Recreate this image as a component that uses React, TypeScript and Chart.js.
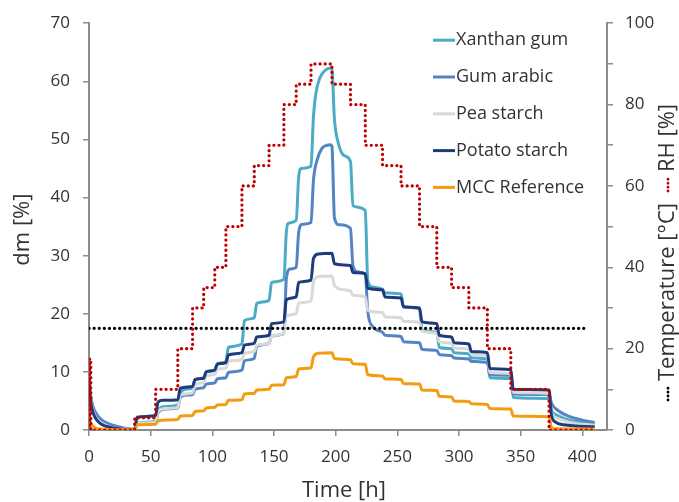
import React, { useEffect, useRef } from "react";
import { Chart, registerables } from "chart.js";

Chart.register(...registerables);

type Pt = [number, number];

// ---- data (time [h], dm [%]) ----
const xanthanGum: Pt[] = [
  [0, 10.3], [1, 6.5], [3, 3.8], [6, 2.2], [10, 1.3], [18, 0.6], [28, 0.2], [36, 0.1],
  [37, 0.1], [39, 1.2], [54, 1.5],
  [56, 3.2], [60, 4.0], [72, 4.3],
  [74, 6.2], [78, 7.0], [84, 7.2],
  [86, 8.6], [93, 9.0],
  [95, 10.0], [102, 10.3],
  [104, 11.4], [111, 11.8],
  [113, 14.2], [124, 14.8],
  [126, 18.8], [134, 19.3],
  [136, 21.8], [146, 22.3],
  [148, 25.4], [158, 25.9],
  [160, 34.0], [162, 35.6], [168, 36.1],
  [170, 43.5], [172, 45.0], [180, 45.4],
  [182, 54.0], [184, 58.0], [187, 60.5], [191, 61.8], [196, 62.3],
  [197, 62.0], [199, 53.5], [202, 49.5], [207, 47.2], [212, 46.2],
  [214, 38.6], [224, 37.8],
  [226, 25.8], [230, 24.6], [238, 24.2],
  [240, 23.6], [253, 23.4],
  [255, 21.2], [268, 20.8],
  [270, 17.2], [282, 16.8],
  [284, 14.2], [294, 14.0],
  [296, 13.3], [308, 13.1],
  [310, 12.4], [323, 12.2],
  [325, 9.0], [342, 8.8],
  [344, 5.6], [373, 5.4],
  [375, 3.4], [380, 2.5], [390, 1.7], [400, 1.3], [410, 1.0],
];

const gumArabic: Pt[] = [
  [0, 9.5], [1, 6.5], [3, 4.2], [6, 2.8], [10, 1.8], [18, 0.9], [28, 0.35], [36, 0.15],
  [37, 0.15], [39, 1.0], [54, 1.2],
  [56, 3.0], [62, 3.6], [72, 3.8],
  [74, 5.6], [78, 6.0], [84, 6.1],
  [86, 7.0], [93, 7.3],
  [95, 7.9], [102, 8.1],
  [104, 8.8], [111, 9.0],
  [113, 9.9], [124, 10.3],
  [126, 11.9], [134, 12.3],
  [136, 14.4], [146, 14.9],
  [148, 16.2], [158, 16.6],
  [160, 26.0], [163, 27.7], [168, 28.0],
  [170, 34.0], [173, 35.4], [180, 35.7],
  [182, 43.0], [185, 46.5], [189, 48.5], [193, 49.0], [196, 49.1],
  [197, 48.8], [199, 36.5], [203, 35.3], [212, 34.7],
  [214, 28.3], [218, 27.2], [224, 26.8],
  [226, 20.5], [230, 17.8], [238, 16.8],
  [240, 16.3], [253, 16.1],
  [255, 15.2], [268, 15.0],
  [270, 13.9], [282, 13.7],
  [284, 13.0], [294, 12.8],
  [296, 12.4], [308, 12.2],
  [310, 11.8], [323, 11.6],
  [325, 9.5], [342, 9.4],
  [344, 6.2], [373, 6.1],
  [375, 4.6], [380, 3.4], [390, 2.3], [400, 1.7], [410, 1.3],
];

const peaStarch: Pt[] = [
  [0, 9.0], [1, 6.0], [3, 3.5], [6, 2.0], [10, 1.2], [18, 0.5], [28, 0.2], [36, 0.05],
  [37, 0.05], [39, 1.1], [54, 1.4],
  [56, 3.2], [62, 3.7], [72, 3.9],
  [74, 6.0], [84, 6.4],
  [86, 7.8], [93, 8.2],
  [95, 9.3], [102, 9.6],
  [104, 10.4], [111, 10.7],
  [113, 11.8], [124, 12.1],
  [126, 13.2], [134, 13.5],
  [136, 14.6], [146, 14.9],
  [148, 16.2], [158, 16.6],
  [160, 19.6], [168, 20.0],
  [170, 21.8], [180, 22.2],
  [182, 25.5], [186, 26.4], [197, 26.5],
  [199, 24.9], [205, 24.2], [212, 23.9],
  [214, 23.2], [224, 22.9],
  [226, 20.6], [238, 20.2],
  [240, 19.5], [253, 19.3],
  [255, 18.7], [268, 18.5],
  [270, 17.0], [282, 16.6],
  [284, 15.2], [294, 14.9],
  [296, 14.1], [308, 13.9],
  [310, 13.0], [323, 12.8],
  [325, 9.9], [342, 9.7],
  [344, 6.5], [373, 6.3],
  [375, 3.0], [380, 2.0], [390, 1.3], [410, 0.8],
];

const potatoStarch: Pt[] = [
  [0, 8.5], [1, 5.5], [3, 3.2], [6, 1.8], [10, 1.0], [18, 0.45], [28, 0.15], [36, 0.05],
  [37, 0.05], [39, 2.2], [54, 2.5],
  [56, 4.8], [60, 5.1], [72, 5.2],
  [74, 7.2], [84, 7.5],
  [86, 8.7], [93, 8.9],
  [95, 10.0], [102, 10.3],
  [104, 11.3], [111, 11.6],
  [113, 12.9], [124, 13.3],
  [126, 14.6], [134, 14.9],
  [136, 16.0], [146, 16.3],
  [148, 18.3], [158, 18.6],
  [160, 22.4], [168, 22.9],
  [170, 25.4], [180, 25.8],
  [182, 29.5], [186, 30.3], [197, 30.4],
  [199, 28.6], [212, 28.3],
  [214, 27.1], [224, 26.9],
  [226, 24.4], [238, 24.1],
  [240, 22.9], [253, 22.7],
  [255, 21.2], [268, 21.0],
  [270, 18.6], [282, 18.3],
  [284, 16.3], [294, 16.0],
  [296, 15.0], [308, 14.8],
  [310, 13.5], [323, 13.3],
  [325, 10.6], [342, 10.4],
  [344, 7.0], [373, 6.9],
  [375, 2.5], [378, 1.4], [385, 0.9], [410, 0.55],
];

const mccReference: Pt[] = [
  [0, 2.3], [1, 1.4], [4, 0.5], [10, 0.15], [36, 0.05],
  [37, 0.05], [39, 0.9], [54, 1.0],
  [56, 1.6], [72, 1.8],
  [74, 2.4], [84, 2.5],
  [86, 3.2], [93, 3.3],
  [95, 3.8], [102, 3.9],
  [104, 4.3], [111, 4.4],
  [113, 5.1], [124, 5.2],
  [126, 6.2], [134, 6.3],
  [136, 6.9], [146, 7.0],
  [148, 7.7], [158, 7.8],
  [160, 9.0], [168, 9.2],
  [170, 10.5], [180, 10.7],
  [182, 12.6], [186, 13.2], [197, 13.3],
  [199, 12.3], [212, 12.1],
  [214, 11.4], [224, 11.3],
  [226, 9.5], [238, 9.3],
  [240, 8.8], [253, 8.7],
  [255, 8.0], [268, 7.9],
  [270, 6.9], [282, 6.8],
  [284, 5.8], [294, 5.7],
  [296, 5.0], [308, 4.9],
  [310, 4.5], [323, 4.4],
  [325, 3.7], [342, 3.6],
  [344, 2.4], [373, 2.3],
  [375, 0.4], [378, 0.2], [410, 0.15],
];

// relative humidity [%] (right axis), value taken from each time onward
const relativeHumidity: Pt[] = [
  [0, 0], [0.5, 17.5], [1.5, 0], [37, 3], [54, 10], [72, 20], [84, 30], [93, 35],
  [102, 40], [111, 50], [124, 60], [134, 65], [146, 70], [158, 80], [168, 85],
  [180, 90], [197, 85], [212, 80], [224, 70], [238, 65], [253, 60], [268, 50],
  [282, 40], [294, 35], [308, 30], [323, 20], [342, 10], [373, 0], [410, 0],
];

// temperature [°C] (right axis)
const temperature: Pt[] = [[0, 25], [405, 25]];

const seriesNames = ["Xanthan gum", "Gum arabic", "Pea starch", "Potato starch", "MCC Reference"];
const seriesColors = ["#4BACC6", "#5584C4", "#D9D9D9", "#1F3A7D", "#F39C12"];
const seriesData = [xanthanGum, gumArabic, peaStarch, potatoStarch, mccReference];

const xTickStep = 50;
const leftTickStep = 10;
const rightTickStep = 10;
const rightLabelStep = 20;

const TEXT = "#333333";
const AXIS = "#8c8c8c";
const FONT = '"Open Sans", "Noto Sans", sans-serif';

const toXY = (d: Pt[]) => d.map(([x, y]) => ({ x, y }));

const decorPlugin = {
  id: "decor",
  afterDraw(chart: any) {
    const ctx: CanvasRenderingContext2D = chart.ctx;
    const a = chart.chartArea;
    ctx.save();
    // legend
    ctx.font = `18px ${FONT}`;
    ctx.textAlign = "left";
    ctx.textBaseline = "middle";
    const lx0 = a.left + 344;
    const lx1 = lx0 + 22;
    for (let i = 0; i < seriesNames.length; i++) {
      const y = a.top + 17 + i * 36.8;
      ctx.strokeStyle = seriesColors[i];
      ctx.lineWidth = 3;
      ctx.setLineDash([]);
      ctx.beginPath();
      ctx.moveTo(lx0, y);
      ctx.lineTo(lx1, y);
      ctx.stroke();
      ctx.fillStyle = TEXT;
      ctx.fillText(seriesNames[i], lx1 + 1, y);
    }
    // x title
    ctx.font = `22px ${FONT}`;
    ctx.textAlign = "center";
    ctx.fillStyle = TEXT;
    ctx.fillText("Time [h]", (a.left + a.right) / 2 - 4, a.bottom + 61);
    // left y title
    ctx.save();
    ctx.translate(23, (a.top + a.bottom) / 2 + 3);
    ctx.rotate(-Math.PI / 2);
    ctx.fillText("dm [%]", 0, 0);
    ctx.restore();
    // right y title with dotted samples
    ctx.save();
    ctx.translate(a.right + 61, a.bottom - 30);
    ctx.rotate(-Math.PI / 2);
    ctx.textAlign = "left";
    const dot = (color: string, x0: number, x1: number) => {
      ctx.strokeStyle = color;
      ctx.lineWidth = 2.8;
      ctx.lineCap = "round";
      ctx.setLineDash([0.1, 3.8]);
      ctx.beginPath();
      ctx.moveTo(x0, 0);
      ctx.lineTo(x1, 0);
      ctx.stroke();
    };
    let x = 0;
    dot("#000000", x, x + 14);
    x += 19;
    const t1 = "Temperature [°C]";
    ctx.fillStyle = TEXT;
    ctx.fillText(t1, x, 0);
    x += ctx.measureText(t1).width + 12;
    dot("#C00000", x, x + 14);
    x += 19;
    ctx.fillText("RH [%]", x, 0);
    ctx.restore();
    ctx.restore();
  },
};

export default function App() {
  const ref = useRef<HTMLCanvasElement | null>(null);
  useEffect(() => {
    if (!ref.current) return;
    const lineDs = (i: number) => ({
      label: seriesNames[i],
      data: toXY(seriesData[i]),
      borderColor: seriesColors[i],
      backgroundColor: seriesColors[i],
      borderWidth: 3,
      pointRadius: 0,
      cubicInterpolationMode: "monotone" as const,
      borderJoinStyle: "round" as const,
      yAxisID: "y",
      fill: false,
    });
    const chart = new Chart(ref.current, {
      type: "line",
      data: {
        datasets: [
          {
            label: "RH",
            data: toXY(relativeHumidity),
            borderColor: "#C00000",
            borderWidth: 3.2,
            pointRadius: 0,
            stepped: "before",
            borderDash: [0.1, 5],
            borderCapStyle: "round",
            yAxisID: "y2",
            order: 0,
          } as any,
          {
            label: "Temperature",
            data: toXY(temperature),
            borderColor: "#000000",
            borderWidth: 3.2,
            pointRadius: 0,
            borderDash: [0.1, 5],
            borderCapStyle: "round",
            yAxisID: "y2",
            order: 1,
          } as any,
          { ...lineDs(4), order: 2 },
          { ...lineDs(3), order: 3 },
          { ...lineDs(2), order: 4 },
          { ...lineDs(1), order: 5 },
          { ...lineDs(0), order: 6 },
        ],
      },
      options: {
        responsive: false,
        animation: false,
        devicePixelRatio: 1,
        layout: { padding: { top: 20, left: 0, right: 0, bottom: 0 } },
        plugins: { legend: { display: false }, tooltip: { enabled: false } },
        scales: {
          x: {
            type: "linear",
            position: "bottom",
            min: 0,
            max: 420,
            ticks: {
              stepSize: xTickStep,
              includeBounds: false,
              color: TEXT,
              font: { family: FONT, size: 17 },
              padding: 11,
              maxRotation: 0,
            },
            grid: { drawOnChartArea: false, color: AXIS, lineWidth: 1.5, tickLength: 6 },
            border: { color: AXIS, width: 2 },
            afterFit: (s: any) => { s.height = 72; },
          },
          y: {
            type: "linear",
            position: "left",
            min: 0,
            max: 70,
            ticks: {
              stepSize: leftTickStep,
              color: TEXT,
              font: { family: FONT, size: 17 },
              padding: 13,
            },
            grid: { drawOnChartArea: false, color: AXIS, lineWidth: 1.5, tickLength: 6 },
            border: { color: AXIS, width: 2 },
            afterFit: (s: any) => { s.width = 89; },
          },
          y2: {
            type: "linear",
            position: "right",
            min: 0,
            max: 100,
            ticks: {
              stepSize: rightTickStep,
              color: TEXT,
              font: { family: FONT, size: 17 },
              padding: 12,
              callback: (v: any) => (Number(v) % rightLabelStep === 0 ? String(v) : ""),
            },
            grid: { drawOnChartArea: false, color: AXIS, lineWidth: 1.5, tickLength: 6 },
            border: { color: AXIS, width: 2 },
            afterFit: (s: any) => { s.width = 72; },
          },
        },
      } as any,
      plugins: [decorPlugin],
    });
    return () => chart.destroy();
  }, []);
  return (
    <div style={{ position: "fixed", left: 0, top: 0, width: 679, height: 502, background: "#fff" }}>
      <canvas ref={ref} width={679} height={502} style={{ width: 679, height: 502 }} />
    </div>
  );
}
